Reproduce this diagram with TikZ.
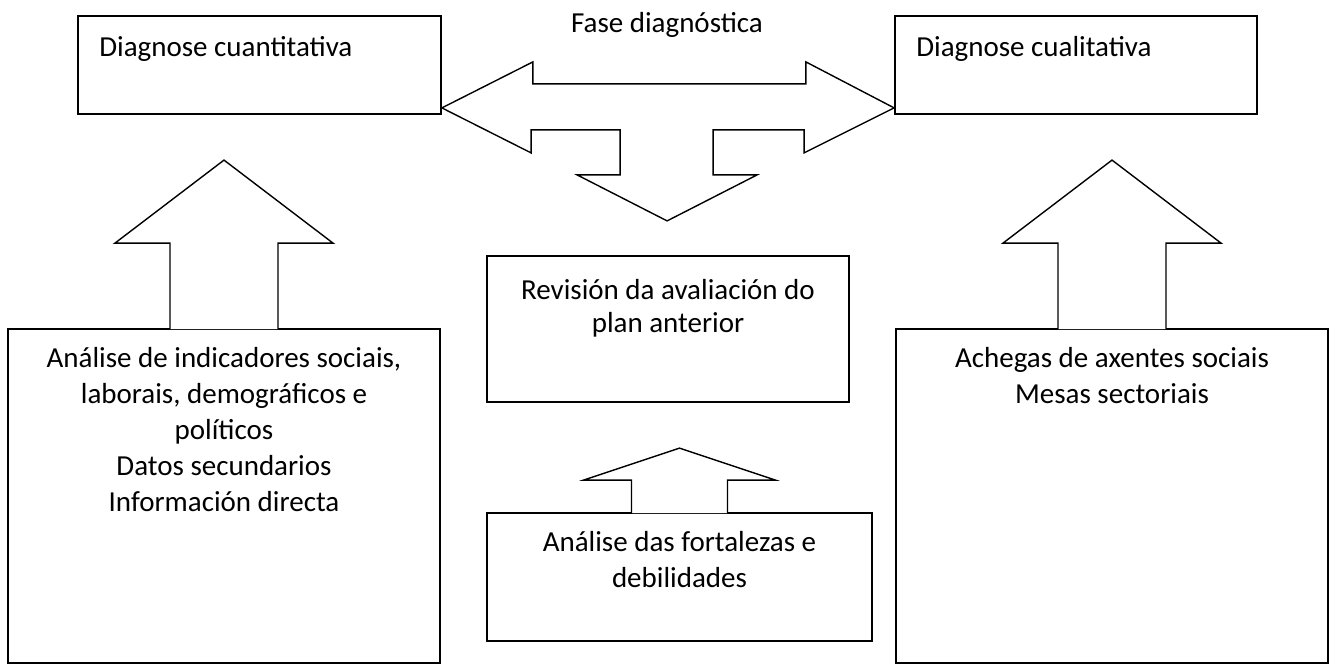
\documentclass[tikz,border=0pt]{standalone}
\usepackage{fontspec}
\setmainfont{Carlito}
\usetikzlibrary{positioning,calc}

\begin{document}
\begin{tikzpicture}
  [x=1pt,y=-1pt,
   box/.style={rectangle,draw=black,line width=1.8pt,inner sep=0pt},
   txt/.style={inner sep=0pt,align=center,font=\fontsize{29}{36}\selectfont},
   blockarrow/.style={draw=black,line width=1.4pt,fill=white,line join=miter}]
  \useasboundingbox (0,0) rectangle (1336,666);

  % boxes
  \node[box,minimum width=363pt,minimum height=98pt] (qnt) at (259.5,65) {};
  \node[box,minimum width=362pt,minimum height=98pt] (qlt) at (1076,65) {};
  \node[box,minimum width=362pt,minimum height=146pt] (rev) at (668,329) {};
  \node[box,minimum width=432pt,minimum height=334pt] (lsrc) at (224,496) {};
  \node[box,minimum width=432pt,minimum height=334pt] (rsrc) at (1112,496) {};
  \node[box,minimum width=385pt,minimum height=128pt] (dafo) at (679.5,577) {};

  % texts
  \node[txt,anchor=base] (fase) at (667,33) {Fase diagnóstica};
  \node[txt,below right=15.8pt and 22pt of qnt.north west] (qnttxt) {\strut Diagnose cuantitativa};
  \node[txt,below right=15.8pt and 22pt of qlt.north west] (qlttxt) {\strut Diagnose cualitativa};
  \node[txt,font=\fontsize{29}{33}\selectfont,below=21pt of rev.north] (revtxt)
    {\strut Revisión da avaliación do\\plan anterior};
  \node[txt,below=13.8pt of lsrc.north] (lsrctxt)
    {\strut Análise de indicadores sociais,\\laborais, demográficos e\\políticos\\Datos secundarios\\Información directa};
  \node[txt,below=13.8pt of rsrc.north] (rsrctxt)
    {\strut Achegas de axentes sociais\\Mesas sectoriais};
  \node[txt,below=14pt of dafo.north] (dafotxt)
    {\strut Análise das fortalezas e\\debilidades};

  % up arrows, open into the box below
  \draw[blockarrow] ($(lsrc.north)+(-54,1)$) -- ++(0,-86) -- ++(-55,0) -- ++(109,-83)
    -- ++(109,83) -- ++(-55,0) -- ++(0,86);
  \draw[blockarrow] ($(rsrc.north)+(-54,1)$) -- ++(0,-86) -- ++(-55,0) -- ++(109,-83)
    -- ++(109,83) -- ++(-55,0) -- ++(0,86);
  \draw[blockarrow] ($(dafo.north)+(-48,1)$) -- ++(0,-33) -- ++(-48,0) -- ++(96,-32)
    -- ++(96,32) -- ++(-48,0) -- ++(0,33);

  % three way arrow between the two diagnoses
  \coordinate (ltip) at ($(qnt.south east)+(0,-7)$);
  \coordinate (rtip) at ($(qlt.south west)+(0,-7)$);
  \draw[blockarrow] (ltip) -- ++(91,-46) -- ++(0,22) -- ++(273,0) -- ++(0,-22) -- (rtip)
    -- ++(-90,45) -- ++(0,-23) -- ++(-91,0) -- ++(0,45) -- ++(44,0) -- ++(-90,46)
    -- ++(-90,-46) -- ++(43,0) -- ++(0,-45) -- ++(-89,0) -- ++(0,23) -- cycle;
\end{tikzpicture}
\end{document}
